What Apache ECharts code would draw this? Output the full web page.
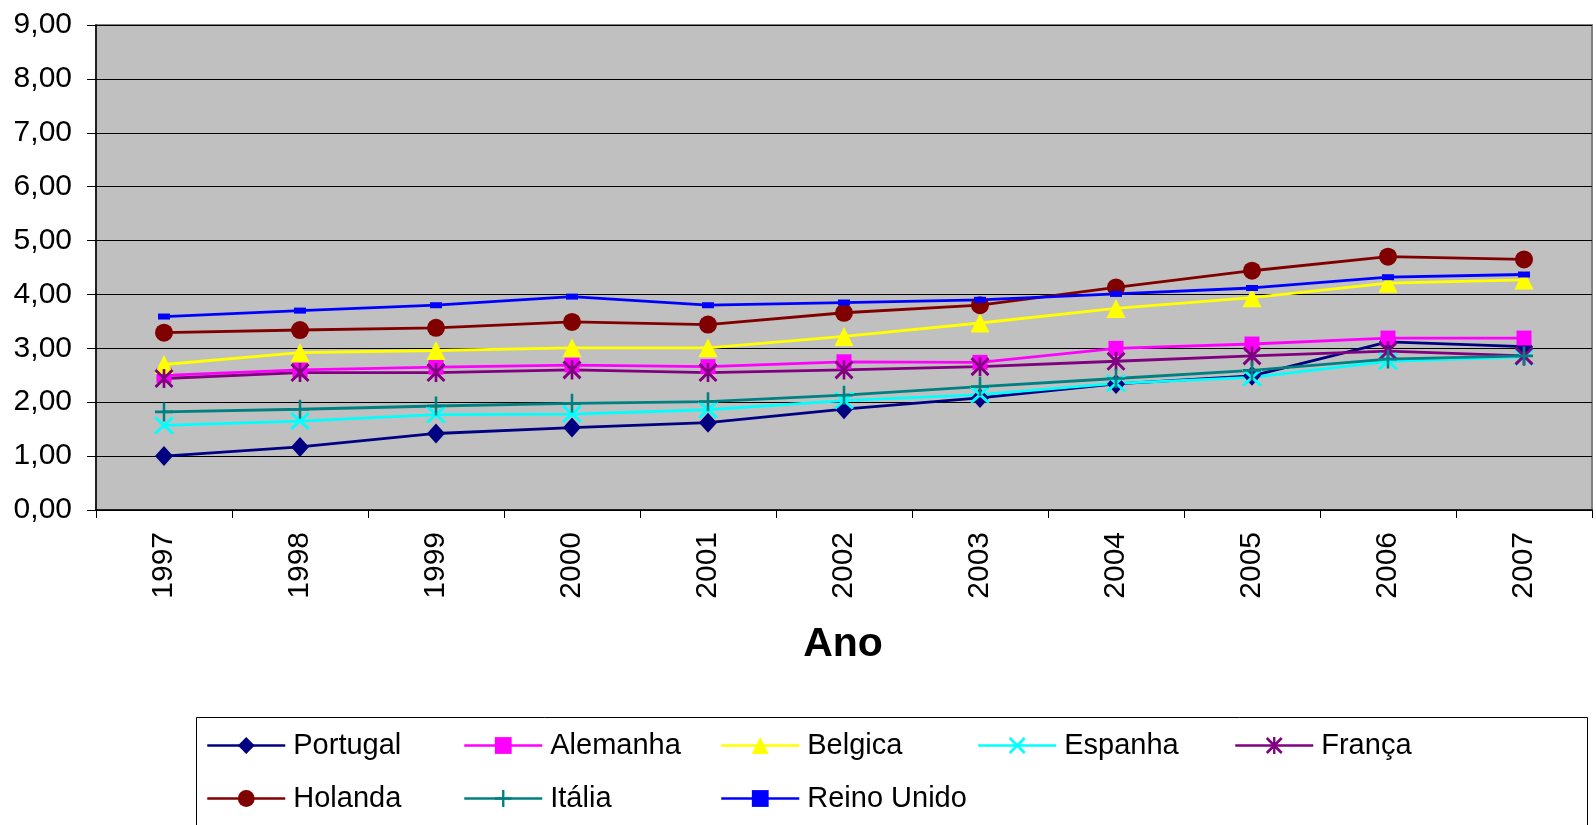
<!DOCTYPE html>
<html>
<head>
<meta charset="utf-8">
<script src="https://cdn.jsdelivr.net/npm/echarts@6/dist/echarts.min.js"></script>
<style>
html,body{margin:0;padding:0;background:#fff;}
#chart{width:1596px;height:825px;}
</style>
</head>
<body>
<div id="chart"></div>
<script>
const years = ['1997','1998','1999','2000','2001','2002','2003','2004','2005','2006','2007'];
const yTicks = [0,1,2,3,4,5,6,7,8,9];
const seriesNames = ['Portugal','Alemanha','Belgica','Espanha','França','Holanda','Itália','Reino Unido'];
const portugal   = [1.00,1.17,1.42,1.53,1.62,1.87,2.08,2.34,2.49,3.12,3.03];
const alemanha   = [2.50,2.60,2.65,2.69,2.66,2.75,2.74,3.00,3.08,3.19,3.19];
const belgica    = [2.70,2.92,2.96,3.01,3.01,3.22,3.47,3.74,3.94,4.21,4.27];
const espanha    = [1.57,1.65,1.77,1.78,1.86,2.03,2.14,2.35,2.46,2.76,2.84];
const franca     = [2.44,2.55,2.55,2.60,2.55,2.60,2.66,2.76,2.86,2.95,2.86];
const holanda    = [3.29,3.34,3.38,3.49,3.44,3.66,3.80,4.13,4.44,4.70,4.65];
const italia     = [1.82,1.87,1.93,1.98,2.01,2.13,2.29,2.44,2.59,2.80,2.86];
const reinoUnido = [3.59,3.70,3.80,3.96,3.80,3.85,3.90,4.01,4.12,4.32,4.37];

const FONT = 'Liberation Sans, Arial, sans-serif';
const X_PATH = 'path://M0,2.2 L2.2,0 L20,17.8 L17.8,20 Z M17.8,0 L20,2.2 L2.2,20 L0,17.8 Z';
const PLUS_PATH = 'path://M8.6,0 L11.4,0 L11.4,20 L8.6,20 Z M0,8.6 L20,8.6 L20,11.4 L0,11.4 Z';
const STAR_PATH = 'path://M0,2.2 L2.2,0 L20,17.8 L17.8,20 Z M17.8,0 L20,2.2 L2.2,20 L0,17.8 Z M8.6,0 L11.4,0 L11.4,20 L8.6,20 Z';

const styles = [
  {data: portugal,   color:'#000080', symbol:'diamond',  size:[18,20]},
  {data: alemanha,   color:'#FF00FF', symbol:'rect',     size:[15,15]},
  {data: belgica,    color:'#FFFF00', symbol:'triangle', size:[19,19]},
  {data: espanha,    color:'#00FFFF', symbol:X_PATH,     size:[20,18]},
  {data: franca,     color:'#800080', symbol:STAR_PATH,  size:[19,19]},
  {data: holanda,    color:'#800000', symbol:'circle',   size:[18,18]},
  {data: italia,     color:'#008080', symbol:PLUS_PATH,  size:[18,19]},
  {data: reinoUnido, color:'#0000FF', symbol:'rect',     size:[12,6]}
];

const series = seriesNames.map((n,i)=>({
  name:n, type:'line', data: styles[i].data,
  symbol: styles[i].symbol, symbolSize: styles[i].size, showSymbol:true,
  lineStyle:{color:styles[i].color, width:2.8},
  itemStyle:{color:styles[i].color, borderWidth:0},
  emphasis:{disabled:true}
}));

const legendLeft = [206,463,720,977,1234,206,463,720];
const legendTop  = [731,731,731,731,731,784,784,784];
const legends = seriesNames.map((n,i)=>({
  data:[n], left:legendLeft[i], top:legendTop[i], orient:'horizontal',
  padding:0, itemWidth:78, itemHeight:21, itemGap:8,
  lineStyle:{width:2.5},
  textStyle:{fontSize:29, color:'#000', fontFamily:FONT, padding:[0,0,0,3]},
  selectedMode:false
}));

const chart = echarts.init(document.getElementById('chart'));
chart.setOption({
  animation:false,
  backgroundColor:'#fff',
  grid:{left:96, right:4, top:25, bottom:315, show:true, backgroundColor:'#C0C0C0', borderColor:'#808080', borderWidth:2},
  xAxis:{
    type:'category', data:years, boundaryGap:true,
    axisLine:{lineStyle:{color:'#000', width:1.5}},
    axisTick:{show:true, length:8, lineStyle:{color:'#000'}},
    axisLabel:{rotate:90, margin:22, fontSize:30, color:'#000', fontFamily:FONT},
    splitLine:{show:false}
  },
  yAxis:{
    type:'value', min:yTicks[0], max:yTicks[yTicks.length-1], interval:1,
    axisLine:{show:true, lineStyle:{color:'#000', width:1.5}},
    axisTick:{show:true, length:9, lineStyle:{color:'#000'}},
    axisLabel:{margin:24, fontSize:30, color:'#000', fontFamily:FONT,
      formatter:v=>v.toFixed(2).replace('.',',')},
    splitLine:{show:true, lineStyle:{color:'#000', width:1}}
  },
  legend: legends,
  graphic:[
    {type:'rect', shape:{x:196.5, y:717.5, width:1391, height:130}, style:{fill:'none', stroke:'#000', lineWidth:1}, silent:true},
    {type:'text', x:843, y:645, style:{text:'Ano', fontSize:41, fontWeight:'bold', fontFamily:FONT, fill:'#000', align:'center', verticalAlign:'middle'}, silent:true}
  ],
  series: series
});
</script>
</body>
</html>
